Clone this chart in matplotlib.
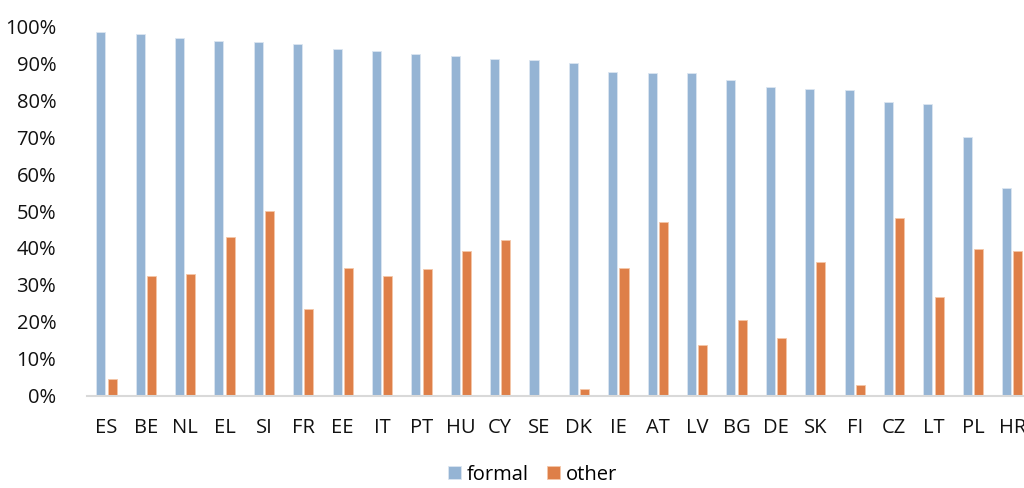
import numpy as np
import matplotlib.pyplot as plt

plt.rcParams['font.family'] = ['Open Sans', 'DejaVu Sans']

countries = ['ES', 'BE', 'NL', 'EL', 'SI', 'FR', 'EE', 'IT', 'PT', 'HU', 'CY', 'SE',
             'DK', 'IE', 'AT', 'LV', 'BG', 'DE', 'SK', 'FI', 'CZ', 'LT', 'PL', 'HR']
formal = [98.4, 98.0, 96.9, 96.2, 95.8, 95.4, 93.9, 93.4, 92.6, 92.0, 91.2, 91.0,
          90.1, 87.6, 87.3, 87.3, 85.4, 83.6, 83.0, 82.7, 79.5, 79.1, 70.2, 56.3]
other = [4.5, 32.3, 32.9, 43.1, 49.9, 23.4, 34.7, 32.4, 34.3, 39.2, 42.2, 0.0,
         1.9, 34.5, 46.9, 13.6, 20.6, 15.5, 36.1, 2.8, 48.1, 26.8, 39.7, 39.2]
yticks = [0, 10, 20, 30, 40, 50, 60, 70, 80, 90, 100]

blue = '#95B4D4'
orange = '#DE7F48'

x = np.arange(len(countries))
w = 0.23

fig = plt.figure(figsize=(10.24, 4.88), dpi=100)
# axes runs past the right edge, so the last group is cut off
ax = fig.add_axes([0.0847, 0.1895, 0.923, 0.756])

ax.bar(x - 0.143, formal, w, color=blue, edgecolor='#DCE6F1', linewidth=0.6, label='formal')
ax.bar(x + 0.143, other, w, color=orange, edgecolor='#F4C7A8', linewidth=0.6, label='other')

ax.set_xlim(-0.5, len(countries) - 0.5)
ax.set_ylim(0, 100)
ax.set_yticks(yticks)
ax.set_yticklabels([f'{v}%' for v in yticks])
ax.set_xticks(x)
ax.set_xticklabels(countries)

for s in ['top', 'right', 'left']:
    ax.spines[s].set_visible(False)
ax.spines['bottom'].set_color('#D9D9D9')
ax.spines['bottom'].set_linewidth(1.5)
ax.tick_params(axis='y', length=0, pad=22, labelsize=14.5, labelcolor='#111111')
ax.tick_params(axis='x', length=0, pad=16, labelsize=14.5, labelcolor='#111111')

fig.legend(loc='lower center', bbox_to_anchor=(0.52, -0.03), ncol=2, frameon=False,
           fontsize=14.5, handlelength=0.65, handleheight=0.65, handletextpad=0.3,
           columnspacing=0.9)

fig.savefig('out.png', dpi=100)
